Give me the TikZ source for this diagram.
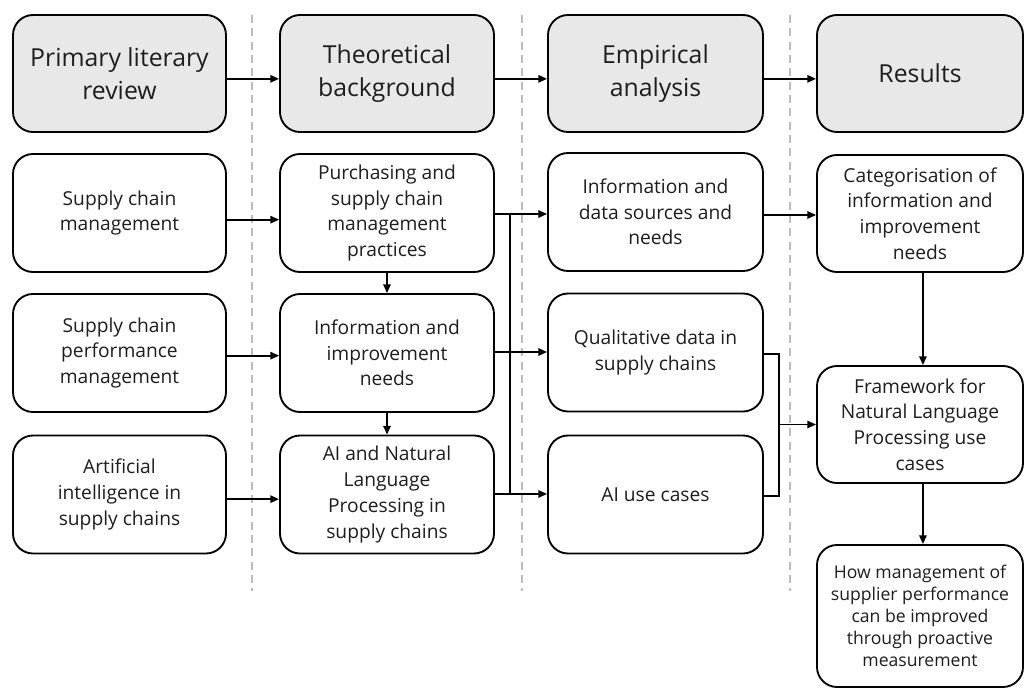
\documentclass[tikz,border=0pt]{standalone}
\usepackage{fontspec}
\setmainfont{Open Sans}
\usetikzlibrary{arrows.meta}
\definecolor{txt}{HTML}{1E1E1E}
\definecolor{headfill}{HTML}{E8E8E8}
\definecolor{divider}{HTML}{BDBDBD}
\begin{document}
\begin{tikzpicture}[x=0.75pt,y=-0.75pt,
  box/.style={draw=black,line width=1.4pt,rounded corners=15pt,
    align=center,text=txt,inner sep=0pt,anchor=center},
  headbox/.style={box,fill=headfill,font=\fontsize{18.6}{25}\selectfont},
  stepbox/.style={box,fill=white,font=\fontsize{14.4}{19.3}\selectfont},
  smallbox/.style={box,fill=white,font=\fontsize{13.2}{16.6}\selectfont},
  conn/.style={line width=1.3pt,draw=black},
  arr/.style={conn,-{Triangle[length=6.5pt,width=5.5pt]}},
  divline/.style={draw=divider,line width=1.5pt,dash pattern=on 6pt off 4pt}]
\useasboundingbox (0,0) rectangle (1025,688);

% column dividers
\draw[divline] (252,15) -- (252,591);
\draw[divline] (522,15) -- (522,591);
\draw[divline] (790,15) -- (790,591);

% header row
\node[headbox,minimum width=213*0.75pt,minimum height=117*0.75pt] (h1) at (119.5,73.5) {Primary literary\\review};
\node[headbox,minimum width=214*0.75pt,minimum height=117*0.75pt] (h2) at (387,73.5) {Theoretical\\background};
\node[headbox,minimum width=215*0.75pt,minimum height=117*0.75pt] (h3) at (655.5,73.5) {Empirical\\analysis};
\node[headbox,minimum width=206*0.75pt,minimum height=117*0.75pt] (h4) at (920,73.5) {Results};

% column 1: literature
\node[stepbox,minimum width=213*0.75pt,minimum height=118*0.75pt] (a1) at (119.5,213) {Supply chain\\management};
\node[stepbox,minimum width=213*0.75pt,minimum height=118*0.75pt] (a2) at (119.5,353) {Supply chain\\performance\\management};
\node[stepbox,minimum width=213*0.75pt,minimum height=118*0.75pt] (a3) at (119.5,494.5) {Artificial\\intelligence in\\supply chains};

% column 2: theory
\node[stepbox,minimum width=214*0.75pt,minimum height=118*0.75pt] (b1) at (387,213) {Purchasing and\\supply chain\\management\\practices};
\node[stepbox,minimum width=214*0.75pt,minimum height=118*0.75pt] (b2) at (387,353) {Information and\\improvement\\needs};
\node[stepbox,minimum width=214*0.75pt,minimum height=118*0.75pt] (b3) at (387,494.5) {AI and Natural\\Language\\Processing in\\supply chains};

% column 3: empirical
\node[stepbox,minimum width=215*0.75pt,minimum height=118*0.75pt] (c1) at (655.5,212) {Information and\\data sources and\\needs};
\node[stepbox,minimum width=215*0.75pt,minimum height=118*0.75pt] (c2) at (655.5,352.5) {Qualitative data in\\supply chains};
\node[stepbox,minimum width=215*0.75pt,minimum height=118*0.75pt] (c3) at (655.5,494.5) {AI use cases};

% column 4: results
\node[stepbox,minimum width=206*0.75pt,minimum height=117*0.75pt] (d1) at (920,213.5) {Categorisation of\\information and\\improvement\\needs};
\node[stepbox,minimum width=206*0.75pt,minimum height=117*0.75pt] (d2) at (920,424.5) {Framework for\\Natural Language\\Processing use\\cases};
\node[smallbox,minimum width=206*0.75pt,minimum height=142*0.75pt] (d3) at (920,616) {How management of\\supplier performance\\can be improved\\through proactive\\measurement};

% header flow
\draw[arr] ([yshift=-4pt]h1.east) -- ([yshift=-4pt]h2.west);
\draw[arr] ([yshift=-4pt]h2.east) -- ([yshift=-4pt]h3.west);
\draw[arr] ([yshift=-4pt]h3.east) -- ([yshift=-4pt]h4.west);

% literature to theory
\draw[arr] ([yshift=-5pt]a1.east) -- ([yshift=-5pt]b1.west);
\draw[arr] ([yshift=-2pt]a2.east) -- ([yshift=-2pt]b2.west);
\draw[arr] ([yshift=-3.5pt]a3.east) -- ([yshift=-3.5pt]b3.west);

% within theory column
\draw[arr] (b1.south) -- (b2.north);
\draw[arr] (b2.south) -- (b3.north);

% theory to empirical, joined by a common bus
\coordinate (busT) at (510,214);
\coordinate (busB) at (510,494);
\draw[conn] (busT) -- (busB);
\draw[arr] ([yshift=-0.75pt]b1.east) -- ([yshift=-1.5pt]c1.west);
\draw[arr] ([yshift=0.75pt]b2.east) -- ([yshift=0.375pt]c2.west);
\draw[arr] ([yshift=0.4pt]b3.east) -- ([yshift=0.4pt]c3.west);

% empirical to results
\draw[arr] ([yshift=-2.25pt]c1.east) -- ([yshift=-1.125pt]d1.west);
\coordinate (join) at (779,424.5);
\draw[conn] ([yshift=-1pt]c2.east) -| (join) |- ([yshift=-1pt]c3.east);
\draw[arr] (join) -- (d2.west);
\draw[arr] ([xshift=2.2pt]d1.south) -- ([xshift=2.2pt]d2.north);
\draw[arr] ([xshift=2.2pt]d2.south) -- ([xshift=2.2pt]d3.north);
\end{tikzpicture}
\end{document}
